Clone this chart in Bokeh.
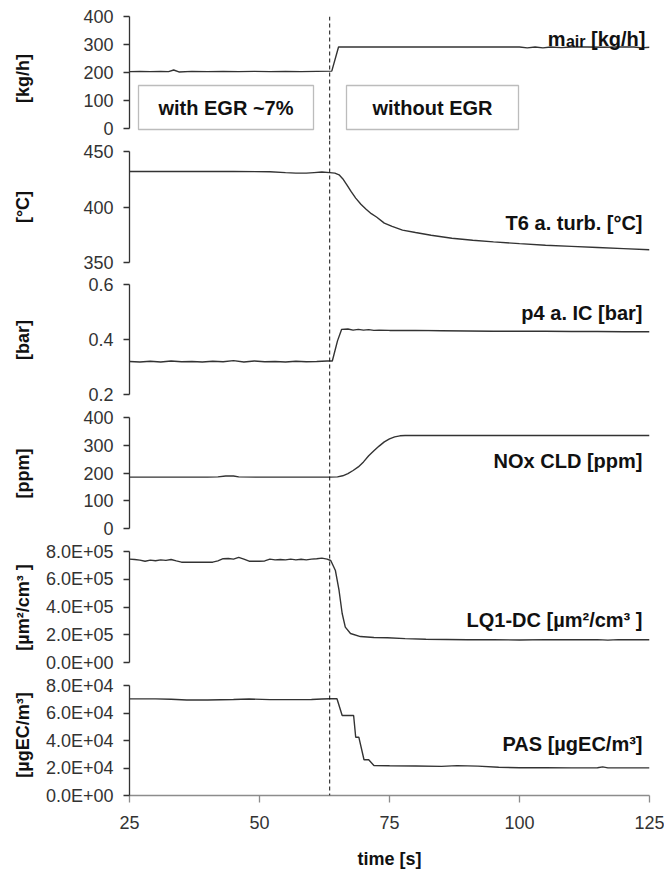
from bokeh.plotting import figure
from bokeh.models import Range1d, LinearAxis, FixedTicker, Span, Label, BoxAnnotation
from bokeh.layouts import column
from bokeh.embed import file_html
from bokeh.resources import INLINE

# ---------------- data ----------------
EGR_OFF_T = 63.5
time_ticks = [25, 50, 75, 100, 125]

t_mair = [25, 27, 29, 31, 32.5, 33.5, 34.5, 37, 40, 43, 46, 49, 52, 55, 58, 61, 63.9, 65.2,
          70, 80, 90, 100, 101.5, 103, 104.5, 106, 108, 110, 113, 116, 119, 122, 123.5, 125]
mair = [203, 204, 203, 204, 203, 209, 202, 204, 203, 204, 203, 204, 203, 204, 203, 204, 205, 291,
        291, 291, 291, 291, 288, 291, 288, 291, 289, 291, 291, 290, 291, 291, 288, 290]

t_t6 = [25, 35, 45, 52, 55, 57, 59, 60.5, 62, 63.5, 64.5, 65.3, 66, 66.8, 67.6, 68.5, 69.5, 70.5,
        71.5, 72.5, 74, 75.5, 77.5, 80, 83, 87, 91, 95, 100, 105, 110, 115, 120, 125]
t6 = [432, 432, 432, 431.8, 431, 430.5, 430.5, 431, 431.5, 431, 430.5, 429, 425.5, 420, 414, 408,
      402.5, 398, 394, 391, 385.5, 382.5, 379.2, 377, 374.5, 371.8, 370, 368.6, 367, 365.5, 364.5,
      363.5, 362.5, 361.5]

t_p4 = [25, 27, 29, 31, 33, 35, 37, 39, 41, 43, 45, 47, 49, 51, 53, 55, 57, 59, 61, 63, 64, 65,
        65.8, 67, 68, 69, 70, 71, 72, 73, 75, 80, 85, 90, 95, 100, 105, 110, 115, 120, 125]
p4 = [0.320, 0.318, 0.321, 0.318, 0.322, 0.319, 0.320, 0.318, 0.321, 0.319, 0.323, 0.318, 0.322,
      0.319, 0.320, 0.318, 0.321, 0.319, 0.320, 0.322, 0.322, 0.395, 0.437, 0.438, 0.434, 0.437,
      0.434, 0.436, 0.433, 0.434, 0.433, 0.433, 0.432, 0.431, 0.430, 0.430, 0.430, 0.429, 0.429,
      0.428, 0.428]

t_nox = [25, 40, 42, 43.5, 45, 46, 50, 60, 63.5, 65, 66, 67, 68, 69, 70, 71, 72, 73, 74, 75, 76,
         77, 78, 90, 110, 125]
nox = [185, 185, 186, 189, 189, 186, 185, 185, 185, 186, 190, 198, 209, 222, 240, 262, 280, 297,
       312, 323, 330, 334, 335, 335, 335, 335]

t_lq = [25, 26, 27, 28, 29, 30, 31, 32, 33, 34, 35, 37, 39, 41, 42, 43, 44, 45, 46, 47, 48, 50,
        51, 52, 53, 54, 55, 56, 57, 58, 59, 60, 61, 62, 63, 63.7, 64.6, 65.3, 65.9, 66.5, 67.5,
        69.4, 72, 74.6, 78, 82, 86, 90, 95, 100, 105, 110, 115, 117, 119, 122, 125]
lq = [7.45e5, 7.42e5, 7.38e5, 7.30e5, 7.38e5, 7.33e5, 7.40e5, 7.36e5, 7.42e5, 7.32e5, 7.23e5,
      7.22e5, 7.22e5, 7.23e5, 7.32e5, 7.48e5, 7.50e5, 7.45e5, 7.58e5, 7.45e5, 7.30e5, 7.30e5,
      7.32e5, 7.45e5, 7.40e5, 7.42e5, 7.40e5, 7.45e5, 7.40e5, 7.44e5, 7.40e5, 7.45e5, 7.48e5,
      7.52e5, 7.45e5, 7.35e5, 6.63e5, 5.19e5, 3.53e5, 2.55e5, 2.09e5, 1.87e5, 1.80e5, 1.78e5,
      1.72e5, 1.68e5, 1.66e5, 1.64e5, 1.65e5, 1.62e5, 1.65e5, 1.64e5, 1.65e5, 1.61e5, 1.65e5,
      1.64e5, 1.64e5]

t_pas = [25, 30, 33, 36, 40, 45, 48, 52, 56, 60, 62, 63.5, 64.9, 65.9, 66.5, 68.1, 68.5, 69.1,
         70.1, 71.0, 72.0, 75, 80, 85, 88, 92, 96, 100, 105, 110, 115, 116, 117, 120, 125]
pas = [7.03e4, 7.03e4, 7.00e4, 6.95e4, 6.95e4, 6.98e4, 7.02e4, 6.97e4, 6.97e4, 6.98e4, 7.02e4,
       7.04e4, 7.04e4, 5.82e4, 5.82e4, 5.82e4, 4.24e4, 4.24e4, 2.60e4, 2.60e4, 2.18e4, 2.16e4,
       2.15e4, 2.12e4, 2.17e4, 2.14e4, 2.05e4, 2.02e4, 2.02e4, 2.01e4, 2.02e4, 2.08e4, 2.01e4,
       2.01e4, 2.01e4]

# ---------------- layout / style ----------------
FONT = "Liberation Sans"
W = 664
FRAME_L, FRAME_R = 129, 649
X0, X1 = 25, 125
LINE_C = "#333333"
AX_C = "#333333"


def px_to_t(px):
    return X0 + (px - FRAME_L) * (X1 - X0) / (FRAME_R - FRAME_L)


panels = [
    dict(t=t_mair, v=mair, lo=0, hi=400, ticks=[0, 100, 200, 300, 400], fmt="{:.0f}",
         band=(16, 128), canvas=(0, 140), frame=(16, 140), ylab="[kg/h]", ylab_sd=48,
         ylab_py=84.5, tag=None, tag_py=None),
    dict(t=t_t6, v=t6, lo=350, hi=450, ticks=[350, 400, 450], fmt="{:.0f}",
         band=(151, 262), canvas=(140, 273), frame=(140, 273), ylab="[°C]", ylab_sd=48,
         ylab_py=217, tag="T6 a. turb. [°C]", tag_py=222),
    dict(t=t_p4, v=p4, lo=0.2, hi=0.6, ticks=[0.2, 0.4, 0.6], fmt="{:.1f}",
         band=(284, 394), canvas=(273, 406), frame=(273, 406), ylab="[bar]", ylab_sd=53,
         ylab_py=351.7, tag="p4 a. IC [bar]", tag_py=312.5),
    dict(t=t_nox, v=nox, lo=0, hi=400, ticks=[0, 100, 200, 300, 400], fmt="{:.0f}",
         band=(417, 528), canvas=(406, 540), frame=(406, 540), ylab="[ppm]", ylab_sd=48,
         ylab_py=483, tag="NOx CLD [ppm]", tag_py=460),
    dict(t=t_lq, v=lq, lo=0, hi=8e5, ticks=[0, 200000, 400000, 600000, 800000], fmt="{:.1E}",
         band=(551, 662), canvas=(540, 674), frame=(540, 674), ylab="[µm²/cm³ ]", ylab_sd=10,
         ylab_py=624, tag="LQ1-DC [µm²/cm³ ]", tag_py=619),
    dict(t=t_pas, v=pas, lo=0, hi=8e4, ticks=[0, 20000, 40000, 60000, 80000], fmt="{:.1E}",
         band=(685, 795), canvas=(674, 871), frame=(674, 795), ylab="[µgEC/m³]", ylab_sd=10,
         ylab_py=753, tag="PAS [µgEC/m³]", tag_py=743),
]

figs = []
for i, pn in enumerate(panels):
    bt, bb = pn["band"]
    ct, cb = pn["canvas"]
    ft, fb = pn["frame"]
    scale = (pn["hi"] - pn["lo"]) / (bb - bt)
    y_start = pn["lo"] - (fb - bb) * scale
    y_end = pn["hi"] + (bt - ft) * scale

    def py_to_v(py, hi=pn["hi"], bt=bt, scale=scale):
        return hi - (py - bt) * scale

    p = figure(width=W, height=cb - ct, x_range=Range1d(X0, X1),
               y_range=Range1d(y_start, y_end),
               x_axis_location=None, y_axis_location=None,
               toolbar_location=None, output_backend="svg",
               min_border_left=FRAME_L, min_border_right=W - FRAME_R,
               min_border_top=ft - ct, min_border_bottom=cb - fb,
               outline_line_color=None, background_fill_color="white",
               border_fill_color="white")
    p.xgrid.grid_line_color = None
    p.ygrid.grid_line_color = None

    # value axis: line, ticks and tick labels
    ax = LinearAxis(bounds=(pn["lo"], pn["hi"]), ticker=FixedTicker(ticks=pn["ticks"]),
                    major_label_overrides={tk: pn["fmt"].format(tk) for tk in pn["ticks"]},
                    axis_line_color=AX_C, axis_line_width=1.3,
                    major_tick_line_color=AX_C, major_tick_line_width=1.3,
                    major_tick_out=6, major_tick_in=0, minor_tick_out=0, minor_tick_in=0,
                    major_label_standoff=10, major_label_text_font=FONT,
                    major_label_text_font_size="18px", major_label_text_color="#333333")
    p.add_layout(ax, "left")

    # title-only axis, centred where the unit label sits
    c = pn["ylab_py"]
    tax = LinearAxis(bounds=(py_to_v(c + 20), py_to_v(c - 20)), ticker=FixedTicker(ticks=[]),
                     axis_line_color=None, major_tick_line_color=None,
                     minor_tick_line_color=None, major_tick_out=0, major_tick_in=0,
                     minor_tick_out=0, minor_tick_in=0, major_label_standoff=0,
                     axis_label=pn["ylab"], axis_label_standoff=pn["ylab_sd"],
                     axis_label_text_font=FONT, axis_label_text_font_style="bold",
                     axis_label_text_font_size="18px", axis_label_text_color="#111111")
    p.add_layout(tax, "left")

    p.add_layout(Span(location=EGR_OFF_T, dimension="height", line_color="#111111",
                      line_width=1, line_dash="4 3"))

    p.line(pn["t"], pn["v"], line_color=LINE_C, line_width=1.4)

    if pn["tag"]:
        p.add_layout(Label(x=X1, y=py_to_v(pn["tag_py"]), x_offset=-7, text=pn["tag"],
                           text_align="right", text_baseline="middle", text_font=FONT,
                           text_font_style="bold", text_font_size="20px",
                           text_color="#111111"))

    if i == 0:
        # m_air [kg/h] with subscript
        for txt, off, py, size in [("[kg/h]", -4, 38, "20px"), ("air", -64, 40.5, "16px"),
                                   ("m", -84, 38, "20px")]:
            p.add_layout(Label(x=X1, y=py_to_v(py), x_offset=off, text=txt,
                               text_align="right", text_baseline="alphabetic", text_font=FONT,
                               text_font_style="bold", text_font_size=size,
                               text_color="#111111"))
        # annotation boxes
        for (l, r), txt in [((138, 313), "with EGR ~7%"), ((346, 518), "without EGR")]:
            p.add_layout(BoxAnnotation(left=px_to_t(l), right=px_to_t(r),
                                       bottom=py_to_v(129), top=py_to_v(85),
                                       fill_color="white", fill_alpha=1.0,
                                       line_color="#222222", line_width=1.3))
            p.add_layout(Label(x=px_to_t((l + r) / 2), y=py_to_v(107), text=txt,
                               text_align="center", text_baseline="middle", text_font=FONT,
                               text_font_style="bold", text_font_size="20px",
                               text_color="#111111"))

    if i == len(panels) - 1:
        xax = LinearAxis(ticker=FixedTicker(ticks=time_ticks),
                         axis_line_color="#8c8c8c", axis_line_width=1.3,
                         major_tick_line_color="#8c8c8c", major_tick_line_width=1.3,
                         major_tick_out=7, major_tick_in=0, minor_tick_out=0, minor_tick_in=0,
                         major_label_standoff=13, major_label_text_font=FONT,
                         major_label_text_font_size="18px", major_label_text_color="#333333",
                         axis_label="time [s]", axis_label_standoff=17,
                         axis_label_text_font=FONT, axis_label_text_font_style="bold",
                         axis_label_text_font_size="18px", axis_label_text_color="#111111")
        p.add_layout(xax, "below")

    figs.append(p)

layout = column(*figs, spacing=0)
open("out.html", "w").write(file_html(layout, INLINE))
